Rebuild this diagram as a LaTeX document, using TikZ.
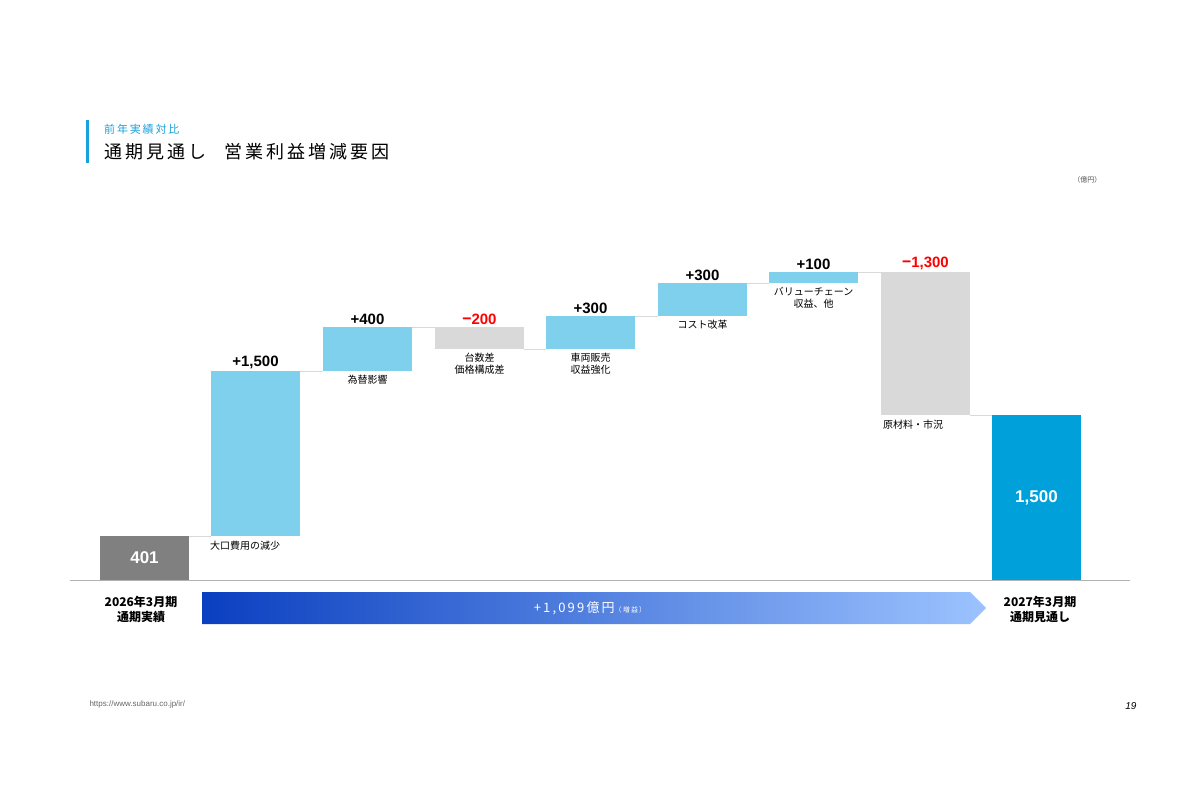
\documentclass[tikz,border=0pt]{standalone}
\usepackage{fontspec}
\setmainfont{Liberation Sans}
\newfontfamily\cjk{Noto Sans CJK JP}
\usetikzlibrary{shapes.arrows}
\definecolor{lb}{HTML}{7FD0EC}
\definecolor{lg}{HTML}{D9D9D9}
\definecolor{dg}{HTML}{808080}
\definecolor{db}{HTML}{00A0DA}
\definecolor{ab}{HTML}{0A3FC0}
\definecolor{ae}{HTML}{9CC3FF}
\definecolor{tb}{HTML}{1AA0DA}
\begin{document}
\begin{tikzpicture}[x=1pt,y=-1pt,
 bar/.style={draw=none,inner sep=0},
 val/.style={font=\fontsize{15}{15}\selectfont\bfseries,anchor=south,inner sep=2pt},
 cat/.style={font=\cjk\fontsize{10}{12}\selectfont,align=center,anchor=north,inner sep=2pt},
 con/.style={draw=lg,line width=0.5pt}]
\useasboundingbox (0,0) rectangle (1200,800);
\fill[tb] (86,120) rectangle (89,163);
\node[anchor=west,text=tb,font=\cjk\fontsize{11}{11}\selectfont,inner sep=0] (sub) at (104,129) {前\,年\,実\,績\,対\,比};
\node[anchor=west,font=\cjk\fontsize{18}{18}\selectfont,inner sep=0] (ttl) at (104,152) {通\,期\,見\,通\,し\quad 営\,業\,利\,益\,増\,減\,要\,因};
\node[anchor=east,font=\cjk\fontsize{7}{7}\selectfont,text=black!70] (unit) at (1105,180) {（億円）};
% baseline
\draw[draw=black!30,line width=0.8pt] (70,580) coordinate (bl) -- (1130,580) coordinate (br);
% bars
\path[fill=dg] (100,536) rectangle (189,580) node[midway,text=white,font=\fontsize{17}{17}\selectfont\bfseries] (b0) {401};
\path[fill=lb] (211,371) rectangle (300,536); \coordinate (b1) at (255.5,371);
\path[fill=lb] (323,327) rectangle (412,371); \coordinate (b2) at (367.5,327);
\path[fill=lg] (435,327) rectangle (524,349); \coordinate (b3) at (479.5,327);
\path[fill=lb] (546,316) rectangle (635,349); \coordinate (b4) at (590.5,316);
\path[fill=lb] (658,283) rectangle (747,316); \coordinate (b5) at (702.5,283);
\path[fill=lb] (769,272) rectangle (858,283); \coordinate (b6) at (813.5,272);
\path[fill=lg] (881,272) rectangle (970,415); \coordinate (b7) at (925.5,272);
\path[fill=db] (992,415) rectangle (1081,580) node[midway,text=white,font=\fontsize{17}{17}\selectfont\bfseries] (b8) {1,500};
% connectors
\draw[con] (189,536) -- (211,536);
\draw[con] (300,371) -- (323,371);
\draw[con] (412,327) -- (435,327);
\draw[con] (524,349) -- (546,349);
\draw[con] (635,316) -- (658,316);
\draw[con] (747,283) -- (769,283);
\draw[con] (858,272) -- (881,272);
\draw[con] (970,415) -- (992,415);
% values
\node[val] (v1) at (b1) {+1,500};
\node[val] (v2) at (b2) {+400};
\node[val,text=red] (v3) at (b3) {{\cjk −}200};
\node[val] (v4) at (b4) {+300};
\node[val] (v5) at (b5) {+300};
\node[val] (v6) at (b6) {+100};
\node[val,text=red] (v7) at (b7) {{\cjk −}1,300};
% categories
\node[cat,anchor=north west] (c1) at (208,539) {大口費用の減少};
\node[cat] (c2) at (367.5,373) {為替影響};
\node[cat] (c3) at (479.5,351) {台数差\\価格構成差};
\node[cat] (c4) at (590.5,351) {車両販売\\収益強化};
\node[cat] (c5) at (702.5,318) {コスト改革};
\node[cat] (c6) at (813.5,285) {バリューチェーン\\収益、他};
\node[cat,anchor=north west] (c7) at (881,418) {原材料・市況};
% period labels
\node[font=\cjk\fontsize{12}{15}\selectfont\bfseries,align=center] (p0) at (141,609) {2026年3月期\\通期実績};
\node[font=\cjk\fontsize{12}{15}\selectfont\bfseries,align=center] (p1) at (1040,609) {2027年3月期\\通期見通し};
% arrow
\shade[left color=ab,right color=ae] (202,592) -- (970,592) -- (986,608) -- (970,624) -- (202,624) -- cycle;
\node[text=white,font=\cjk\fontsize{13}{13}\selectfont] (arr) at (590,608) {+\,1\,,\,0\,9\,9\,億\,円{\fontsize{7}{7}\selectfont（\,増\,益\,）}};
\node[anchor=west,font=\fontsize{8}{8}\selectfont,text=black!60] (url) at (86,704) {https://www.subaru.co.jp/ir/};
\node[anchor=east,font=\itshape\fontsize{10}{10}\selectfont] (pg) at (1140,706) {19};
\end{tikzpicture}
\end{document}
